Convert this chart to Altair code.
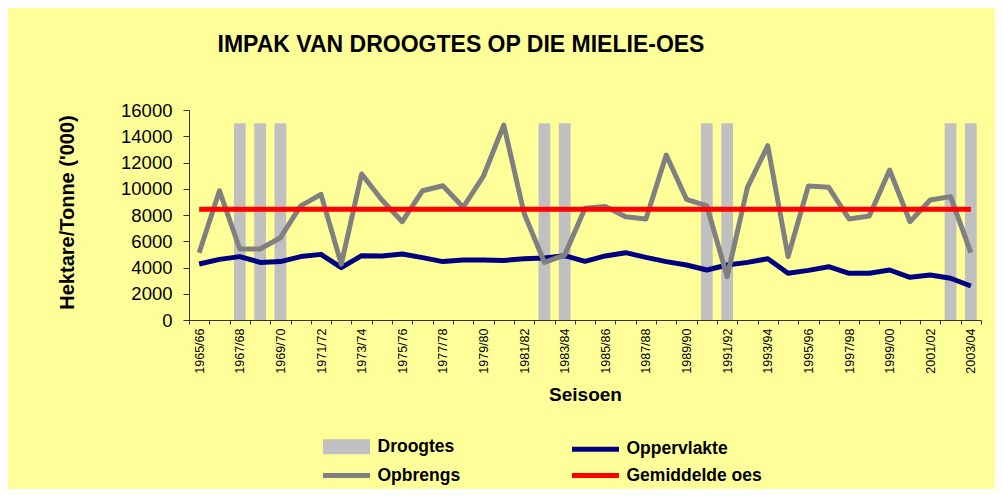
import altair as alt
import pandas as pd

seisoene = ["1965/66", "1966/67", "1967/68", "1968/69", "1969/70", "1970/71", "1971/72",
            "1972/73", "1973/74", "1974/75", "1975/76", "1976/77", "1977/78", "1978/79",
            "1979/80", "1980/81", "1981/82", "1982/83", "1983/84", "1984/85", "1985/86",
            "1986/87", "1987/88", "1988/89", "1989/90", "1990/91", "1991/92", "1992/93",
            "1993/94", "1994/95", "1995/96", "1996/97", "1997/98", "1998/99", "1999/00",
            "2000/01", "2001/02", "2002/03", "2003/04"]

opbrengs = [5130, 9850, 5410, 5410, 6270, 8690, 9575, 4250, 11120, 9140, 7490, 9850, 10230,
            8590, 10970, 14860, 8130, 4390, 4950, 8510, 8640, 7870, 7700, 12570, 9190, 8690,
            3300, 10110, 13280, 4830, 10210, 10110, 7700, 7920, 11430, 7490, 9140, 9400, 5130]

oppervlakte = [4270, 4620, 4830, 4390, 4450, 4830, 5000, 3990, 4900, 4880, 5030, 4750, 4450,
               4570, 4570, 4540, 4670, 4720, 4900, 4470, 4880, 5130, 4770, 4450, 4190, 3810,
               4190, 4390, 4670, 3560, 3780, 4060, 3560, 3560, 3810, 3250, 3430, 3180, 2590]

droogte_seisoene = ["1967/68", "1968/69", "1969/70", "1982/83", "1983/84",
                    "1990/91", "1991/92", "2002/03", "2003/04"]
droogte_hoogte = 15000
gemiddelde_oes = 8430

y_ticks = [0, 2000, 4000, 6000, 8000, 10000, 12000, 14000, 16000]

reeks_name = ["Droogtes", "Oppervlakte", "Opbrengs", "Gemiddelde oes"]
reeks_kleure = ["#C0C0C0", "#000080", "#808080", "#FF0000"]

FONT = "Liberation Sans"

# long table for the lines (draw order: navy, grey, red)
rows = []
for s, v in zip(seisoene, oppervlakte):
    rows.append({"seisoen": s, "reeks": "Oppervlakte", "waarde": v})
for s, v in zip(seisoene, opbrengs):
    rows.append({"seisoen": s, "reeks": "Opbrengs", "waarde": v})
for s in seisoene:
    rows.append({"seisoen": s, "reeks": "Gemiddelde oes", "waarde": gemiddelde_oes})
lyne_df = pd.DataFrame(rows)

droogte_df = pd.DataFrame({"seisoen": droogte_seisoene,
                           "waarde": [droogte_hoogte] * len(droogte_seisoene)})

x_scale = alt.Scale(domain=seisoene, paddingInner=0, paddingOuter=0)
y_scale = alt.Scale(domain=[0, 16000], nice=False)

x_axis = alt.Axis(
    title="Seisoen", tickBand="extent", labelAngle=270,
    labelExpr="toNumber(substring(datum.label, 0, 4)) % 2 == 1 ? datum.label : ''",
    labelFont=FONT, labelFontSize=12.5, labelColor="black", labelPadding=4,
    labelOverlap=False, tickSize=4, tickColor="#333333", domainColor="#333333",
    titleFont=FONT, titleFontSize=19, titleFontWeight="bold", titleColor="black",
    titleY=80, titleBaseline="alphabetic", grid=False,
)
y_axis = alt.Axis(
    title="Hektare/Tonne ('000)", values=y_ticks, format="d", tickCount=9,
    labelFont=FONT, labelFontSize=18.5, labelColor="black", labelPadding=11,
    labelOverlap=False, tickSize=6, tickColor="#333333", domainColor="#333333", grid=False,
    titleFont=FONT, titleFontSize=20, titleFontWeight="bold", titleColor="black",
    titleAngle=270, titleX=-122, titleY=102, titleAlign="center", titleBaseline="middle",
)

bars = alt.Chart(droogte_df).mark_bar(width=alt.RelativeBandSize(0.58), color="#C0C0C0").encode(
    x=alt.X("seisoen:N", scale=x_scale, axis=x_axis, sort=seisoene),
    y=alt.Y("waarde:Q", scale=y_scale, axis=y_axis),
)

legend = alt.Legend(
    title=None, orient="none", legendX=145, legendY=324, columns=2, direction="horizontal",
    symbolType={"expr": "datum.value === 'Droogtes' ? 'M-2.1,-0.5H2.1V0.5H-2.1Z' : 'M-2.35,0H2.35'"},
    symbolSize=400, symbolStrokeWidth=5,
    symbolFillColor={"expr": "datum.value === 'Droogtes' ? '#C0C0C0' : 'transparent'"},
    symbolOpacity=1,
    labelFont=FONT, labelFontSize=17.5, labelFontWeight="bold", labelColor="black",
    labelOffset=18.5, columnPadding=101, rowPadding=1, padding=0,
)

lines = alt.Chart(lyne_df).mark_line(strokeWidth=5, strokeJoin="round").encode(
    x=alt.X("seisoen:N", scale=x_scale, axis=x_axis, sort=seisoene),
    y=alt.Y("waarde:Q", scale=y_scale, axis=y_axis),
    color=alt.Color("reeks:N", scale=alt.Scale(domain=reeks_name, range=reeks_kleure),
                    legend=legend),
)

chart = alt.layer(bars, lines).properties(
    width=792, height=210,
    autosize=alt.AutoSizeParams(type="none"),
    padding={"left": 181, "top": 102, "right": 14, "bottom": 169},
    background="#FFFF99",
    title=alt.TitleParams(
        text="IMPAK VAN DROOGTES OP DIE MIELIE-OES", font=FONT, fontSize=23,
        fontWeight="bold", color="black", anchor="middle", dx=-124, offset=26.5,
        baseline="alphabetic", frame="group",
    ),
).configure_view(stroke=None)

chart.save("out.html", embed_options={"renderer": "svg", "actions": False})
